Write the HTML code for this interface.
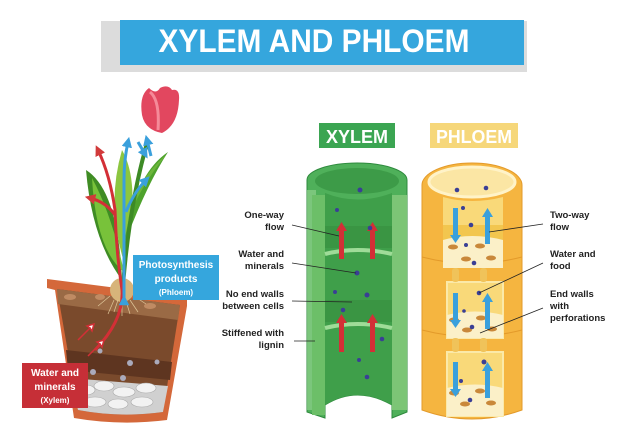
<!DOCTYPE html>
<html><head><meta charset="utf-8"><style>
html,body{margin:0;padding:0;background:#fff;}
svg{display:block;font-family:"Liberation Sans",sans-serif;}
</style></head><body>
<svg width="626" height="444" viewBox="0 0 626 444" xmlns="http://www.w3.org/2000/svg">
<defs>
<marker id="ar" viewBox="0 0 10 10" refX="5" refY="5" markerWidth="3.5" markerHeight="3.5" orient="auto"><path d="M0,0L10,5L0,10z" fill="#d13a3a"/></marker>
<marker id="ab" viewBox="0 0 10 10" refX="5" refY="5" markerWidth="3.5" markerHeight="3.5" orient="auto"><path d="M0,0L10,5L0,10z" fill="#3aa0dc"/></marker>
</defs>
<rect x="101" y="21" width="426" height="51" fill="#dcdcdc"/>
<rect x="120" y="20" width="404" height="45" fill="#35a6dd"/>
<text x="314" y="52" font-size="32" font-weight="bold" fill="#fff" text-anchor="middle" textLength="311" lengthAdjust="spacingAndGlyphs">XYLEM AND PHLOEM</text>
<rect x="319" y="123" width="76" height="25" fill="#3ba552"/>
<text x="357" y="143" font-size="18" font-weight="bold" fill="#fff" text-anchor="middle" textLength="62" lengthAdjust="spacingAndGlyphs">XYLEM</text>
<rect x="430" y="123" width="88" height="25" fill="#f6d77a"/>
<text x="474" y="143" font-size="18" font-weight="bold" fill="#fff" text-anchor="middle" textLength="76" lengthAdjust="spacingAndGlyphs">PHLOEM</text>

<g>
<path d="M307,180 A50,17 0 0 1 407,180 L407,412 L392,418 L392,405 Q357,385 325,405 L325,418 L307,412 Z" fill="#4fb05a" stroke="#2e8a3d" stroke-width="1"/>
<rect x="307" y="190" width="9" height="220" fill="#8fd08a" opacity="0.7"/>
<rect x="392" y="195" width="15" height="215" fill="#7cc576"/>
<rect x="312" y="195" width="13" height="220" fill="#6cbf68"/>
<ellipse cx="357" cy="181" rx="42" ry="13" fill="#3d9b48"/>
<path d="M325,193 L325,405 Q357,385 392,405 L392,193 Q357,206 325,193Z" fill="#3f9f4a"/>
<rect x="325" y="226" width="67" height="22" fill="#37903f" opacity="0.6"/>
<rect x="325" y="300" width="67" height="22" fill="#37903f" opacity="0.6"/>
<path d="M325,254 Q357,246 392,254" stroke="#9fdc98" stroke-width="4" fill="none"/>
<path d="M325,328 Q357,320 392,328" stroke="#9fdc98" stroke-width="4" fill="none"/>
<g fill="#d32f36">
<rect x="339" y="230" width="5" height="29"/><path d="M336,231 L341.5,222 L347,231Z"/>
<rect x="370" y="230" width="5" height="29"/><path d="M367,231 L372.5,222 L378,231Z"/>
<rect x="339" y="322" width="5" height="30"/><path d="M336,323 L341.5,314 L347,323Z"/>
<rect x="370" y="322" width="5" height="30"/><path d="M367,323 L372.5,314 L378,323Z"/>
</g>
<g fill="#3a3f95">
<circle cx="360" cy="190" r="2.5"/><circle cx="337" cy="210" r="2"/><circle cx="370" cy="228" r="2.3"/>
<circle cx="357" cy="273" r="2.5"/><circle cx="335" cy="292" r="2"/><circle cx="367" cy="295" r="2.5"/>
<circle cx="343" cy="310" r="2.3"/><circle cx="382" cy="339" r="2.3"/><circle cx="359" cy="360" r="2"/><circle cx="367" cy="377" r="2.3"/>
</g>
</g>

<g>
<path d="M422,185 A50,22 0 0 1 522,185 L522,410 Q472,428 422,410 Z" fill="#f5b540" stroke="#e39a2a" stroke-width="1"/>
<path d="M422,257 Q472,270 522,257" stroke="#e39a2a" fill="none"/>
<path d="M422,330 Q472,343 522,330" stroke="#e39a2a" fill="none"/>
<ellipse cx="472" cy="182" rx="43" ry="15" fill="#fbe6a4" stroke="#fff3c8" stroke-width="3"/>
<path d="M443,197 L443,268 L503,268 L503,197 Q472,205 443,197Z" fill="#f9d979"/>
<rect x="443" y="225" width="60" height="43" fill="#f2c64f"/>
<path d="M443,240 Q472,232 503,240 L503,268 L443,268Z" fill="#fbf0c8"/>
<rect x="447" y="282" width="56" height="56" fill="#f9d979" stroke="#fbe9a8" stroke-width="2"/>
<path d="M447,315 Q475,308 503,315 L503,338 L447,338Z" fill="#fbf0c8"/>
<rect x="447" y="352" width="56" height="64" fill="#f9d979" stroke="#fbe9a8" stroke-width="2"/>
<path d="M447,388 Q475,381 503,388 L503,416 L447,416Z" fill="#fbf0c8"/>
<g fill="#f0c35a"><rect x="452" y="268" width="7" height="14" rx="3"/><rect x="480" y="268" width="7" height="14" rx="3"/><rect x="452" y="338" width="7" height="14" rx="3"/><rect x="480" y="338" width="7" height="14" rx="3"/></g>
<g fill="#c9883a">
<ellipse cx="453" cy="247" rx="5" ry="2.5"/><ellipse cx="480" cy="246" rx="5" ry="2.5"/><ellipse cx="466" cy="259" rx="5" ry="2.5"/><ellipse cx="491" cy="258" rx="5" ry="2.5"/>
<ellipse cx="454" cy="320" rx="5" ry="2.5"/><ellipse cx="481" cy="318" rx="5" ry="2.5"/><ellipse cx="467" cy="330" rx="5" ry="2.5"/><ellipse cx="492" cy="329" rx="5" ry="2.5"/>
<ellipse cx="454" cy="393" rx="5" ry="2.5"/><ellipse cx="480" cy="391" rx="5" ry="2.5"/><ellipse cx="465" cy="404" rx="5" ry="2.5"/><ellipse cx="491" cy="403" rx="5" ry="2.5"/>
</g>
<g fill="#3aa0dc">
<rect x="453" y="208" width="5" height="28"/><path d="M450,235 L455.5,243 L461,235Z"/>
<rect x="485" y="216" width="5" height="28"/><path d="M482,217 L487.5,208 L493,217Z"/>
<rect x="453" y="293" width="5" height="28"/><path d="M450,320 L455.5,328 L461,320Z"/>
<rect x="485" y="301" width="5" height="28"/><path d="M482,302 L487.5,293 L493,302Z"/>
<rect x="453" y="362" width="5" height="28"/><path d="M450,389 L455.5,397 L461,389Z"/>
<rect x="485" y="370" width="5" height="28"/><path d="M482,371 L487.5,362 L493,371Z"/>
</g>
<g fill="#3a3f95">
<circle cx="457" cy="190" r="2.3"/><circle cx="486" cy="188" r="2.3"/><circle cx="463" cy="208" r="2"/><circle cx="471" cy="225" r="2.3"/>
<circle cx="466" cy="245" r="2"/><circle cx="474" cy="263" r="2.3"/><circle cx="479" cy="293" r="2.3"/><circle cx="464" cy="311" r="1.8"/>
<circle cx="472" cy="327" r="2.3"/><circle cx="484" cy="362" r="2.5"/><circle cx="461" cy="381" r="2"/><circle cx="470" cy="400" r="2.3"/>
</g>
</g>

<g font-size="9.5" font-weight="bold" fill="#222" text-anchor="end">
<text x="284" y="218">One-way</text><text x="284" y="230">flow</text>
<text x="284" y="257">Water and</text><text x="284" y="269">minerals</text>
<text x="284" y="297">No end walls</text><text x="284" y="309">between cells</text>
<text x="284" y="336">Stiffened with</text><text x="284" y="348">lignin</text>
</g>
<g font-size="9.5" font-weight="bold" fill="#222">
<text x="550" y="218">Two-way</text><text x="550" y="230">flow</text>
<text x="550" y="257">Water and</text><text x="550" y="269">food</text>
<text x="550" y="297">End walls</text><text x="550" y="309">with</text><text x="550" y="321">perforations</text>
</g>
<g stroke="#222" stroke-width="0.8">
<line x1="292" y1="225" x2="339" y2="236"/><line x1="292" y1="263" x2="356" y2="273"/>
<line x1="292" y1="301" x2="352" y2="302"/><line x1="294" y1="341" x2="315" y2="341"/>
<line x1="543" y1="224" x2="489" y2="232"/><line x1="543" y1="263" x2="479" y2="293"/>
<line x1="543" y1="308" x2="480" y2="333"/>
</g>

<!-- PLANT -->
<path d="M47,279 L187,297 L187,306 L167,420 Q120,426 74,418 L55,290 L47,288Z" fill="#d4683a"/>
<path d="M57,289 L180,305 L163,412 Q120,418 78,410Z" fill="#7a4a2c"/>
<path d="M57,289 L180,305 L178,320 L58,304Z" fill="#9a6a45"/>
<path d="M66,350 L172,362 L170,380 L68,370Z" fill="#5e3520"/>
<path d="M70,378 L168,386 L163,412 Q120,418 78,410Z" fill="#d0d0d0"/>
<g fill="#f2f2f2" stroke="#aaa" stroke-width="0.6">
<ellipse cx="86" cy="390" rx="9" ry="5"/><ellipse cx="104" cy="386" rx="10" ry="5"/><ellipse cx="124" cy="392" rx="11" ry="5"/><ellipse cx="146" cy="388" rx="10" ry="5"/><ellipse cx="95" cy="402" rx="11" ry="5"/><ellipse cx="118" cy="404" rx="10" ry="5"/><ellipse cx="142" cy="402" rx="11" ry="5"/>
</g>
<g fill="#c08b63"><ellipse cx="70" cy="297" rx="6" ry="3"/><ellipse cx="100" cy="297" rx="5" ry="3"/><ellipse cx="150" cy="306" rx="6" ry="3"/></g>
<g fill="#aab"><circle cx="100" cy="351" r="2.5"/><circle cx="130" cy="363" r="3"/><circle cx="93" cy="372" r="3"/><circle cx="157" cy="362" r="2.5"/><circle cx="123" cy="378" r="3"/></g>
<ellipse cx="122" cy="290" rx="12" ry="12" fill="#d7b47a"/>
<g stroke="#e0c79a" stroke-width="0.7" fill="none"><path d="M110,296 l-12,10 M114,300 l-6,14 M122,302 l0,14 M130,300 l8,12 M134,296 l12,8 M118,300 l-4,12 M126,301 l4,13"/></g>
<!-- leaves -->
<path d="M86,170 Q118,190 122,280 Q92,240 86,170Z" fill="#3f8c24"/>
<path d="M92,178 Q112,215 124,272 Q96,250 92,178Z" fill="#78c23a"/>
<path d="M122,150 Q142,185 124,262 Q106,205 122,150Z" fill="#8cc640"/>
<path d="M168,152 Q134,175 124,245 Q146,186 168,152Z" fill="#4ea22c"/>
<path d="M166,155 Q138,190 128,220 Q136,180 166,155Z" fill="#6cb63a"/>
<path d="M148,140 Q130,200 123,285" stroke="#3d8a25" stroke-width="4" fill="none"/>
<!-- tulip -->
<path d="M142,115 Q139,95 149,88 Q156,95 160,88 Q168,84 172,90 Q180,88 179,100 Q178,125 162,133 Q145,130 142,115Z" fill="#e2475f"/>
<path d="M150,92 Q160,100 158,130" stroke="#f58a99" stroke-width="3" fill="none"/>
<!-- flows -->
<path d="M95,350 Q124,320 122,290 Q116,250 115,210 Q110,175 98,150" stroke="#d32f36" stroke-width="3" fill="none" marker-end="url(#ar)"/>
<path d="M115,215 Q106,202 90,198" stroke="#d32f36" stroke-width="3" fill="none" marker-end="url(#ar)"/>
<path d="M124,300 L124,180 Q124,160 128,142" stroke="#3aa0dc" stroke-width="3" fill="none" marker-end="url(#ab)" marker-start="url(#ab)"/>
<path d="M126,212 Q134,192 146,180" stroke="#3aa0dc" stroke-width="3" fill="none" marker-end="url(#ab)"/>
<path d="M138,142 L145,154" stroke="#3aa0dc" stroke-width="3" marker-end="url(#ab)"/>
<path d="M151,156 L147,140" stroke="#3aa0dc" stroke-width="3" marker-end="url(#ab)"/>
<g fill="#fff" stroke="#d32f36" stroke-width="1.5">
<path d="M78,340 l12,-12 l-3,-2 l7,-2 l-2,7 l-2,-3 l-12,12z"/>
<path d="M88,356 l12,-12 l-3,-2 l7,-2 l-2,7 l-2,-3 l-12,12z"/>
</g>
<rect x="133" y="255" width="86" height="45" fill="#35a6dd"/>
<g font-weight="bold" fill="#fff" text-anchor="middle">
<text x="176" y="268" font-size="10">Photosynthesis</text>
<text x="176" y="282" font-size="10">products</text>
<text x="176" y="295" font-size="8">(Phloem)</text>
</g>
<rect x="22" y="363" width="66" height="45" fill="#c62f37"/>
<g font-weight="bold" fill="#fff" text-anchor="middle">
<text x="55" y="376" font-size="10">Water and</text>
<text x="55" y="390" font-size="10">minerals</text>
<text x="55" y="403" font-size="8">(Xylem)</text>
</g>
</svg>
</body></html>
